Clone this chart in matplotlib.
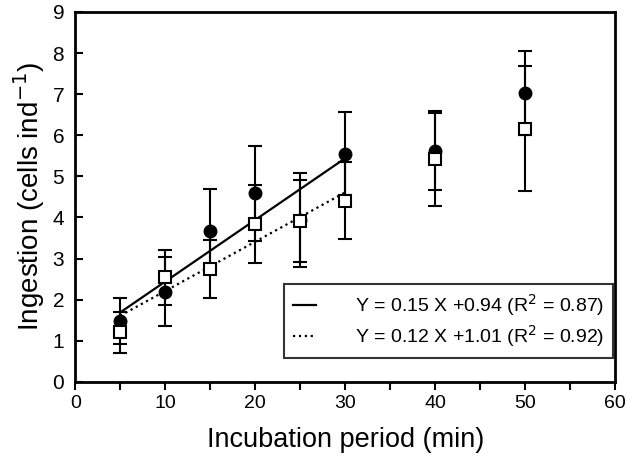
import matplotlib
matplotlib.use("Agg")
import matplotlib.pyplot as plt
import numpy as np

plt.rcParams['font.family'] = ['Liberation Sans', 'DejaVu Sans']

# Data
time = [5, 10, 15, 20, 25, 30, 40, 50]
circle_mean = [1.48, 2.19, 3.66, 4.59, 3.94, 5.55, 5.61, 7.03]
circle_err = [0.55, 0.84, 1.04, 1.16, 1.14, 1.01, 0.94, 1.02]
square_mean = [1.21, 2.54, 2.75, 3.84, 3.92, 4.41, 5.43, 6.16]
square_err = [0.50, 0.67, 0.71, 0.95, 1.00, 0.93, 1.15, 1.52]

fit_slopes = [0.15, 0.12]
fit_intercepts = [0.94, 1.01]
fit_r2 = [0.87, 0.92]
fit_range = [5, 30]

fig = plt.figure(figsize=(6.27, 4.59), dpi=100)
ax = fig.add_axes([0.12, 0.168, 0.861, 0.806])

ax.errorbar(time, circle_mean, yerr=circle_err, fmt='o', color='black',
            markersize=9, capsize=5, elinewidth=1.5, capthick=1.5, zorder=3)
ax.errorbar(time, square_mean, yerr=square_err, fmt='s', color='black',
            markerfacecolor='white', markeredgecolor='black', markeredgewidth=1.5,
            markersize=8.5, capsize=5, elinewidth=1.5, capthick=1.5, zorder=4)

xf = np.array(fit_range, dtype=float)
styles = ['-', ':']
handles = []
for s, b, r2, ls in zip(fit_slopes, fit_intercepts, fit_r2, styles):
    h, = ax.plot(xf, s * xf + b, color='black', linestyle=ls, linewidth=1.6, zorder=2,
                 label=f"Y = {s:.2f} X +{b:.2f} (R$^2$ = {r2:.2f})")
    handles.append(h)

leg = ax.legend(handles=handles, loc='lower right', bbox_to_anchor=(0.996, 0.065),
                borderaxespad=0, fontsize=14, frameon=True, fancybox=False,
                edgecolor='black', borderpad=0.45, handlelength=1.2,
                handletextpad=2.0, labelspacing=0.25)
leg.get_frame().set_linewidth(1.5)

ax.set_xlim(0, 60)
ax.set_ylim(0, 9)
ax.set_xticks(range(0, 61, 10))
ax.set_xticks(range(5, 60, 10), minor=True)
ax.set_yticks(range(0, 10))
ax.tick_params(axis='x', which='both', direction='out', length=6, width=1.5, labelsize=14)
ax.tick_params(axis='y', which='both', direction='in', length=6, width=1.5, labelsize=15,
               pad=8)
for sp in ax.spines.values():
    sp.set_linewidth(2)

ax.set_xlabel('Incubation period (min)', fontsize=19.5, labelpad=11)
ax.set_ylabel('Ingestion (cells ind$^{-1}$)', fontsize=20, labelpad=4)

fig.savefig('out.png', dpi=100)
